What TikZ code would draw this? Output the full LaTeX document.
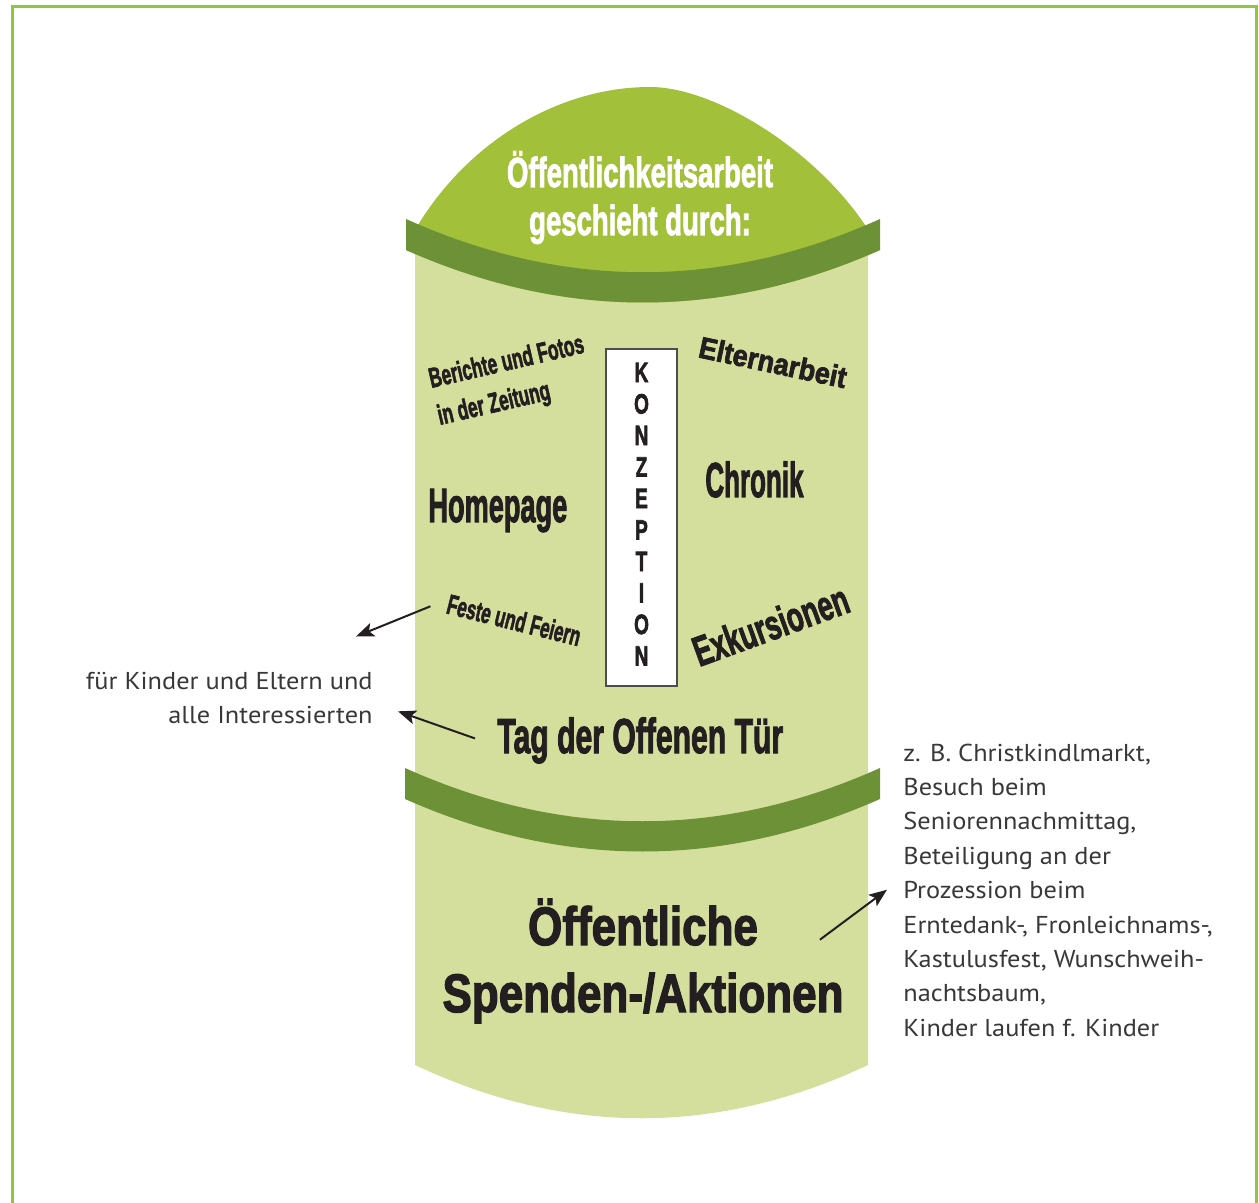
\documentclass[tikz,border=0pt]{standalone}
\usepackage{fontspec}
\setmainfont[BoldFeatures={FakeBold=2.5}]{Liberation Sans}
\newfontfamily\randfont[FakeStretch=1.08]{PT Sans}
\usepackage{graphicx}
\usetikzlibrary{arrows.meta, positioning}

\definecolor{rahmengruen}{HTML}{8DC63F}
\definecolor{kuppelgruen}{HTML}{A3C03A}
\definecolor{bandgruen}{HTML}{6D9136}
\definecolor{saeulengruen}{HTML}{D4DF9E}
\definecolor{schwarz}{HTML}{231F20}
\definecolor{grauschrift}{HTML}{383838}

% schmale fette Schrift
\newcommand{\schmal}[2]{\scalebox{#1}[1]{#2}}
\newcommand{\zeilen}[2]{\begin{tabular}[t]{@{}#1@{}}#2\end{tabular}}

\begin{document}
\begin{tikzpicture}[x=0.5pt, y=0.5pt,
    schlag/.style={font=\bfseries, text=schwarz, inner sep=0pt, anchor=base west},
    notiz/.style={font=\randfont\fontsize{12.2}{17.2}\selectfont, text=grauschrift, inner sep=0pt},
    pfeil/.style={-{Stealth[length=9pt, width=7pt, inset=2pt]}, line width=1pt, draw=schwarz}]
    \useasboundingbox (0,0) rectangle (1259,-1203);

    % Rahmen
    \draw[rahmengruen, line width=1.5pt] (12,-1203) -- (12,-7) -- (1256,-7) -- (1256,-1203);

    % Saeule
    \fill[saeulengruen] (415,-240) -- (415,-1065) .. controls (566,-1136) and (717,-1136) .. (868,-1065) -- (868,-240) -- cycle;
    \fill[kuppelgruen] (418,-225) .. controls (470,-140) and (560,-87) .. (650,-87) .. controls (715,-87) and (815,-150) .. (865,-225) -- (880,-250) .. controls (722,-320) and (564,-320) .. (406,-250) -- cycle;

    % Baender
    \fill[bandgruen] (406,-219) .. controls (564,-290) and (722,-290) .. (880,-219) -- (880,-250) .. controls (722,-320) and (564,-320) .. (406,-250) -- cycle;
    \fill[bandgruen] (405,-768) .. controls (563,-839) and (722,-839) .. (880,-768) -- (880,-799) .. controls (722,-869) and (563,-869) .. (405,-799) -- cycle;

    % Titel
    \node[schlag, anchor=base, text=white, font=\fontsize{21}{24}\selectfont\bfseries] (titel) at (640,-187) {\schmal{0.655}{\zeilen{c}{Öffentlichkeitsarbeit\\geschieht durch:}}};

    % Konzeption
    \node[draw=schwarz!80, line width=0.75pt, fill=white, minimum width=35.5pt, minimum height=168.5pt, inner sep=0pt, font=\fontsize{14}{15.75}\selectfont\bfseries, text=schwarz] (konzeption) at (641.5,-517.5) {\schmal{0.68}{\zeilen{c}{K\\O\\N\\Z\\E\\P\\T\\I\\O\\N}}};

    % Beispiele
    \node[schlag, rotate=13, font=\fontsize{14}{19}\selectfont\bfseries] (zeitung) at (431,-388) {\schmal{0.62}{\zeilen{l}{Berichte und Fotos\\in der Zeitung}}};
    \node[schlag, rotate=-12, font=\fontsize{15}{18}\selectfont\bfseries] (eltern) at (697,-357) {\schmal{0.9}{Elternarbeit}};
    \node[schlag, font=\fontsize{24}{28}\selectfont\bfseries] (homepage) at (428,-522) {\schmal{0.566}{Homepage}};
    \node[schlag, font=\fontsize{24.5}{28}\selectfont\bfseries] (chronik) at (705,-497) {\schmal{0.53}{Chronik}};
    \node[schlag, rotate=-14, font=\fontsize{14}{17}\selectfont\bfseries] (feste) at (445,-613) {\schmal{0.61}{Feste und Feiern}};
    \node[schlag, rotate=20, font=\fontsize{21}{24}\selectfont\bfseries] (exkursionen) at (699,-667) {\schmal{0.645}{Exkursionen}};
    \node[schlag, font=\fontsize{24.5}{28}\selectfont\bfseries] (tag) at (497,-753) {\schmal{0.615}{Tag der Offenen Tür}};
    \node[schlag, anchor=base, font=\fontsize{27}{33.5}\selectfont\bfseries] (spenden) at (643,-945) {\schmal{0.815}{\zeilen{c}{Öffentliche\\Spenden-/Aktionen}}};

    % Randnotizen
    \node[notiz, anchor=base east] (publikum) at (373,-689) {\zeilen{r}{für Kinder und Eltern und\\alle Interessierten}};
    \node[notiz, anchor=base west] (beispiel) at (903,-761) {\zeilen{l}{z. B. Christkindlmarkt,\\Besuch beim\\Seniorennachmittag,\\Beteiligung an der\\Prozession beim\\Erntedank-, Fronleichnams-,\\Kastulusfest, Wunschweih-\\nachtsbaum,\\Kinder laufen f. Kinder}};

    % Pfeile
    \draw[pfeil] ([shift={(-8.5pt,-1.5pt)}]feste.west) -- ([shift={(-8.5pt,14pt)}]publikum.north east);
    \draw[pfeil] ([shift={(-11pt,1pt)}]tag.west) -- ([shift={(12.5pt,-6pt)}]publikum.east);
    \draw[pfeil] ([shift={(-12pt,-21pt)}]spenden.north east) -- ([shift={(-8pt,1pt)}]beispiel.west);
\end{tikzpicture}
\end{document}
